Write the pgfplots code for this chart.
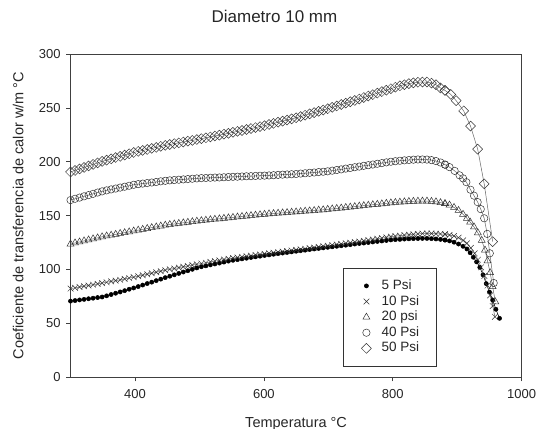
\documentclass[border=0pt]{standalone}
\usepackage{pgfplots}
\pgfplotsset{compat=1.18}
\usepackage{pgfplotstable}
\usepackage{fontspec}
\setmainfont{Liberation Sans}

% x, 5 Psi, 10 Psi, 20 psi, 40 Psi, 50 Psi
\pgfplotstableread{
x a b c d e
300 70.6 82.2 123.6 164.4 190.5
307 71.1 82.9 124.6 165.6 191.9
314 71.7 83.7 125.5 166.7 193.3
321 72.2 84.4 126.5 167.9 194.7
328 72.8 85.1 127.4 169.0 196.1
335 73.3 85.8 128.4 170.2 197.5
342 73.9 86.6 129.3 171.4 198.9
349 74.4 87.3 130.3 172.5 200.3
356 75.5 88.1 131.1 173.4 201.5
363 76.7 88.9 131.8 174.3 202.7
370 77.9 89.6 132.6 175.1 203.9
377 79.1 90.4 133.4 176.0 205.0
384 80.3 91.2 134.1 176.8 206.2
391 81.6 92.0 134.9 177.7 207.4
398 82.8 92.8 135.7 178.6 208.6
405 84.1 93.7 136.5 179.2 209.6
412 85.5 94.6 137.2 179.7 210.5
419 86.9 95.5 138.0 180.2 211.4
426 88.2 96.5 138.8 180.7 212.4
433 89.6 97.4 139.5 181.2 213.3
440 91.0 98.4 140.3 181.8 214.3
447 92.4 99.3 141.1 182.3 215.2
454 93.7 100.1 141.7 182.7 216.0
461 95.0 100.9 142.2 183.0 216.8
468 96.3 101.7 142.7 183.3 217.5
475 97.6 102.5 143.3 183.6 218.3
482 98.8 103.2 143.8 183.9 219.1
489 100.1 104.0 144.3 184.2 219.8
496 101.4 104.8 144.8 184.5 220.6
503 102.5 105.5 145.3 184.8 221.4
510 103.3 106.2 145.7 184.9 222.2
517 104.2 107.0 146.2 185.1 223.0
524 105.1 107.7 146.6 185.3 223.9
531 105.9 108.4 147.0 185.4 224.7
538 106.8 109.2 147.5 185.6 225.6
545 107.7 109.9 147.9 185.8 226.4
552 108.5 110.6 148.3 186.0 227.3
559 109.1 111.1 148.7 186.1 228.2
566 109.8 111.7 149.2 186.3 229.0
573 110.4 112.2 149.6 186.5 229.9
580 111.1 112.8 150.0 186.6 230.8
587 111.7 113.4 150.4 186.8 231.7
594 112.3 113.9 150.8 187.0 232.6
601 113.0 114.5 151.2 187.1 233.5
608 113.5 115.0 151.6 187.3 234.6
615 114.1 115.5 151.9 187.5 235.6
622 114.7 116.0 152.2 187.8 236.7
629 115.2 116.5 152.5 188.0 237.7
636 115.8 117.1 152.8 188.2 238.7
643 116.3 117.6 153.1 188.4 239.8
650 116.9 118.1 153.4 188.6 240.8
657 117.4 118.7 153.7 189.0 242.0
664 117.9 119.2 154.1 189.3 243.2
671 118.5 119.8 154.4 189.7 244.4
678 119.0 120.3 154.7 190.0 245.6
685 119.5 120.9 155.1 190.4 246.8
692 120.0 121.5 155.4 190.7 248.0
699 120.5 122.0 155.8 191.1 249.2
706 121.0 122.6 156.2 191.7 250.5
713 121.5 123.1 156.6 192.3 251.8
720 122.0 123.7 157.0 192.9 253.1
727 122.5 124.3 157.5 193.6 254.4
734 123.0 124.8 157.9 194.2 255.7
741 123.6 125.4 158.3 194.9 256.9
748 124.1 125.9 158.8 195.5 258.2
755 124.5 126.6 159.2 196.2 259.6
762 125.0 127.2 159.6 196.8 261.0
769 125.5 127.8 160.1 197.4 262.3
776 126.0 128.5 160.5 198.1 263.7
783 126.4 129.1 160.9 198.7 265.1
790 126.9 129.8 161.4 199.4 266.4
797 127.4 130.4 161.8 200.0 267.8
804 127.7 130.9 162.2 200.5 269.2
811 127.9 131.3 162.5 200.9 270.5
818 128.2 131.8 162.8 201.3 271.5
825 128.4 132.2 163.1 201.6 272.5
832 128.6 132.6 163.3 201.9 273.2
839 128.7 133.0 163.4 202.1 273.8
846 128.8 133.3 163.5 202.1 274.0
853 128.8 133.4 163.5 202.0 274.0
860 128.6 133.4 163.2 201.5 273.0
867 128.3 133.2 162.8 200.6 271.5
874 127.9 133.0 162.0 199.3 268.5
881 127.3 132.6 161.0 197.3 266.2
}\body

% falling ends of each series
\pgfplotstableread{
x y
881 127.3
888 126.5
895 125.3
902 123.6
909 121.5
915 119.0
920 115.5
925 111.3
930 107.0
935 102.0
940 95.0
945 86.8
950 79.0
955 71.5
960 63.0
965.6 54.6
}\tailA

\pgfplotstableread{
x y
881 132.6
888 132.0
895 131.0
902 129.5
909 127.0
915 124.2
921 120.0
927 115.0
932 109.0
937 102.0
942 94.0
947 85.0
951 76.0
955 66.0
958.5 56.0
}\tailB

\pgfplotstableread{
x y
881 161.0
888 159.8
895 157.6
902 154.8
909 151.2
915 147.5
920 144.0
926 139.5
932 134.0
938 127.0
943 118.0
947 108.0
951 97.0
955 84.0
959 70.0
}\tailC

\pgfplotstableread{
x y
881 197.3
888 195.0
896 191.5
903.6 187.4
909 184.6
914.2 181.0
920.6 174.0
926 168.5
931.7 162.5
936.5 156.0
941.8 147.5
946.5 133.0
950.5 115.0
956.6 87.4
}\tailD

\pgfplotstableread{
x y
881 266.2
890 262.5
898.3 256.7
910 247.2
920.6 233.1
931.7 211.7
941.8 179.5
955 125.8
}\tailE

\pgfplotsset{
    s5/.style={black, line width=0.5pt, mark=*, mark size=2.1pt,
        mark options={fill=black}},
    s10/.style={black!60, line width=0.5pt, mark=x, mark size=4pt,
        mark options={draw=black!80}},
    s20/.style={black!60, line width=0.5pt, mark=triangle, mark size=4pt,
        mark options={draw=black!80, fill=white}},
    s40/.style={black!60, line width=0.5pt, mark=o, mark size=3.7pt,
        mark options={draw=black!80, fill=white}},
    s50/.style={black!60, line width=0.5pt, mark=square, mark size=3.5pt,
        mark options={draw=black!80, fill=white, rotate=45}},
}

\begin{document}
\begin{tikzpicture}
\begin{axis}[
    name=ax,
    scale only axis,
    width=451pt, height=323pt,
    xmin=300, xmax=1000,
    ymin=0, ymax=300,
    xtick={400,600,800,1000},
    ytick={0,50,100,150,200,250,300},
    tick pos=left,
    tick align=outside,
    major tick length=4.3pt,
    axis line style={black!75, line width=0.6pt},
    tick style={black!75, line width=0.6pt},
    ticklabel style={font=\fontsize{13}{15}\selectfont, text=black!85},
    xticklabel style={yshift=-4pt},
    yticklabel style={xshift=-2pt},
    /pgf/number format/assume math mode=true,
    /pgf/number format/1000 sep={},
    clip=false,
    title={Diametro 10 mm},
    title style={at={(axis description cs:0.452,1)}, anchor=center, yshift=32pt,
        font=\fontsize{17}{20}\selectfont, text=black!85},
    xlabel={Temperatura °C},
    xlabel style={at={(axis description cs:0.5,0)}, anchor=base, yshift=-50pt,
        font=\fontsize{14.5}{17}\selectfont, text=black!85},
    ylabel={Coeficiente de transferencia de calor w/m °C},
    ylabel style={at={(axis description cs:-0.116,0.5)}, anchor=center,
        font=\fontsize{14.5}{17}\selectfont, text=black!85},
    legend style={at={(axis description cs:0.6036,0.3375)}, anchor=north west,
        draw=black!80, line width=0.6pt, inner xsep=16pt, inner ysep=10.5pt,
        row sep=1.6pt, font=\fontsize{13.5}{15}\selectfont, text=black!85,
        nodes={inner sep=1pt, text height=9.5pt, text depth=2.5pt}},
    legend cell align=left,
    legend image code/.code={
        \draw[#1, line width=0.5pt] plot[only marks] coordinates {(0pt,0pt)};
        \path (-7pt,-1pt) (14pt,1pt);
    },
]
\addplot[s5] table[x=x, y=a] {\body};
\addlegendentry{5 Psi}
\addplot[s10] table[x=x, y=b] {\body};
\addlegendentry{10 Psi}
\addplot[s20] table[x=x, y=c] {\body};
\addlegendentry{20 psi}
\addplot[s40] table[x=x, y=d] {\body};
\addlegendentry{40 Psi}
\addplot[s50] table[x=x, y=e] {\body};
\addlegendentry{50 Psi}

\addplot[forget plot, s5] table {\tailA};
\addplot[forget plot, s10] table {\tailB};
\addplot[forget plot, s20] table {\tailC};
\addplot[forget plot, s40] table {\tailD};
\addplot[forget plot, s50] table {\tailE};
\end{axis}
\pgfresetboundingbox
\path ([shift={(-70.5pt,-51pt)}]ax.south west) rectangle ([shift={(14.3pt,54pt)}]ax.north east);
\end{tikzpicture}
\end{document}
